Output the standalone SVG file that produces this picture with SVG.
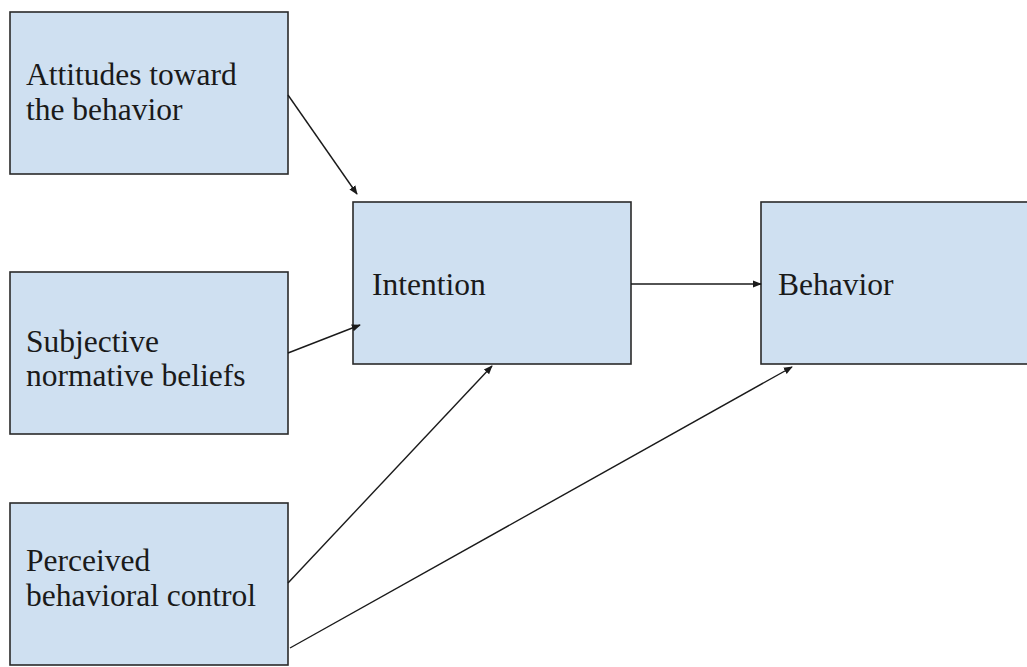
<svg xmlns="http://www.w3.org/2000/svg" width="1027" height="667" viewBox="0 0 1027 667">
<style>
.box{fill:#cfe0f1;stroke:#2a2a2a;stroke-width:1.6}
.lbl{font-family:"Liberation Serif",serif;font-size:31.5px;fill:#1a1a1a}
.edge{stroke:#1a1a1a;stroke-width:1.4;fill:none}
</style>
<defs>
<marker id="ah" viewBox="0 0 10 10" refX="9" refY="5" markerWidth="9" markerHeight="9" markerUnits="userSpaceOnUse" orient="auto">
<path d="M0,1 L10,5 L0,9 Z" fill="#1a1a1a"/>
</marker>
</defs>
<rect width="1027" height="667" fill="#ffffff"/>
<g id="attitudes">
<rect class="box" x="10" y="12" width="278" height="162"/>
<text class="lbl" x="26" y="85">Attitudes toward</text>
<text class="lbl" x="26" y="120">the behavior</text>
</g>
<g id="subjective">
<rect class="box" x="10" y="272" width="278" height="162"/>
<text class="lbl" x="26" y="352">Subjective</text>
<text class="lbl" x="26" y="386">normative beliefs</text>
</g>
<g id="perceived">
<rect class="box" x="10" y="503" width="278" height="162"/>
<text class="lbl" x="26" y="571">Perceived</text>
<text class="lbl" x="26" y="606">behavioral control</text>
</g>
<g id="intention">
<rect class="box" x="353" y="202" width="278" height="162"/>
<text class="lbl" x="372" y="295">Intention</text>
</g>
<g id="behavior">
<rect class="box" x="761" y="202" width="278" height="162"/>
<text class="lbl" x="778" y="295">Behavior</text>
</g>
<g id="connectors">
<line class="edge" x1="288" y1="95" x2="357" y2="194" marker-end="url(#ah)"/>
<line class="edge" x1="288" y1="353" x2="360" y2="325" marker-end="url(#ah)"/>
<line class="edge" x1="288" y1="583" x2="492" y2="366" marker-end="url(#ah)"/>
<line class="edge" x1="290" y1="648" x2="792" y2="367" marker-end="url(#ah)"/>
<line class="edge" x1="631" y1="284" x2="761" y2="284" marker-end="url(#ah)"/>
</g>
</svg>
